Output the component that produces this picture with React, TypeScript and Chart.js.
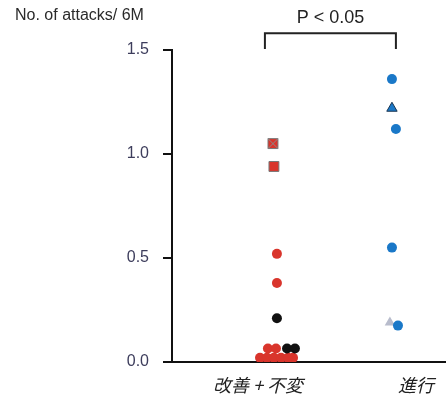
import React, { useEffect, useRef } from "react";
import { Chart, registerables } from "chart.js";

Chart.register(...registerables);

// ---- data ----
const categories = ["改善 + 不変", "進行"];
const yTickValues = [0, 0.5, 1.0, 1.5];
const yAxisTitle = "No. of attacks/ 6M";
const pText = "P < 0.05";

// group 1 (改善 + 不変), x = category position + jitter
const redSquareX = [1.095, 1.101];
const redSquareY = [1.05, 0.94];
const redCrossX = [1.095];
const redCrossY = [1.05];
const redCircleX = [1.12, 1.12, 1.063, 1.114, 1.013, 1.057, 1.101, 1.146, 1.222, 1.19];
const redCircleY = [0.52, 0.38, 0.065, 0.065, 0.02, 0.02, 0.02, 0.02, 0.02, 0.02];
const blackCircleX = [1.12, 1.184, 1.234];
const blackCircleY = [0.21, 0.065, 0.065];

// group 2 (進行)
const blueCircleX = [1.848, 1.873, 1.848, 1.886];
const blueCircleY = [1.36, 1.12, 0.55, 0.175];
const blueTriangleX = [1.848];
const blueTriangleY = [1.22];
const grayTriangleX = [1.835];
const grayTriangleY = [0.19];

// significance bracket
const bracketFrom = 1.044;
const bracketTo = 1.873;
const bracketTop = 1.58;
const bracketLeg = 1.505;

const toPts = (xs: number[], ys: number[]) => xs.map((x, i) => ({ x, y: ys[i] }));

const annotate = {
  id: "annotate",
  afterDraw(chart: any) {
    const ctx = chart.ctx;
    const xs = chart.scales.x;
    const ys = chart.scales.y;
    ctx.save();
    ctx.fillStyle = "#2a2a2a";
    ctx.font = "16px 'Liberation Sans', Arial, sans-serif";
    ctx.textAlign = "left";
    ctx.textBaseline = "alphabetic";
    ctx.fillText(yAxisTitle, 15, 20);

    const x1 = xs.getPixelForValue(bracketFrom);
    const x2 = xs.getPixelForValue(bracketTo);
    const yt = ys.getPixelForValue(bracketTop);
    const yl = ys.getPixelForValue(bracketLeg);
    ctx.strokeStyle = "#222222";
    ctx.lineWidth = 2;
    ctx.beginPath();
    ctx.moveTo(x1, yl);
    ctx.lineTo(x1, yt);
    ctx.lineTo(x2, yt);
    ctx.lineTo(x2, yl);
    ctx.stroke();

    ctx.font = "18px 'Liberation Sans', Arial, sans-serif";
    ctx.textAlign = "center";
    ctx.fillStyle = "#222222";
    ctx.fillText(pText, (x1 + x2) / 2, 23);
    ctx.restore();
  },
};

export default function App() {
  const ref = useRef<HTMLCanvasElement>(null);
  useEffect(() => {
    if (!ref.current) return;
    const red = "#d9352c";
    const blue = "#1a78c8";
    const chart = new Chart(ref.current, {
      type: "scatter",
      data: {
        datasets: [
          {
            data: toPts(redCrossX, redCrossY),
            pointStyle: "crossRot",
            pointRadius: 7,
            borderColor: "#8a8a8a",
            borderWidth: 1,
            backgroundColor: "transparent",
          },
          {
            data: toPts(redSquareX, redSquareY),
            pointStyle: "rect",
            pointRadius: 7,
            backgroundColor: red,
            borderColor: "#777777",
            borderWidth: 1,
          },
          {
            data: toPts(blueCircleX, blueCircleY),
            pointStyle: "circle",
            pointRadius: 5,
            backgroundColor: blue,
            borderColor: blue,
            borderWidth: 0,
          },
          {
            data: toPts(grayTriangleX, grayTriangleY),
            pointStyle: "triangle",
            pointRadius: 6,
            backgroundColor: "#b8bccc",
            borderColor: "#b8bccc",
            borderWidth: 0,
          },
          {
            data: toPts(blueTriangleX, blueTriangleY),
            pointStyle: "triangle",
            pointRadius: 6,
            backgroundColor: blue,
            borderColor: "#1a3550",
            borderWidth: 1,
          },
          {
            data: toPts(blackCircleX, blackCircleY),
            pointStyle: "circle",
            pointRadius: 5,
            backgroundColor: "#111111",
            borderColor: "#111111",
            borderWidth: 0,
          },
          {
            data: toPts(redCircleX, redCircleY),
            pointStyle: "circle",
            pointRadius: 5,
            backgroundColor: red,
            borderColor: red,
            borderWidth: 0,
          },
        ],
      },
      options: {
        animation: false,
        responsive: false,
        events: [],
        layout: { autoPadding: false, padding: { top: 50, left: 0, right: 0, bottom: 0 } },
        plugins: { legend: { display: false }, tooltip: { enabled: false } },
        scales: {
          x: {
            type: "linear",
            min: 0.456,
            max: 2.19,
            afterFit: (s: any) => {
              s.height = 39;
              s.paddingLeft = 0;
              s.paddingRight = 0;
            },
            afterBuildTicks: (s: any) => {
              s.ticks = categories.map((_, i) => ({ value: i + 1 }));
            },
            grid: { display: false, drawTicks: false },
            border: { display: true, color: "#111111", width: 2 },
            ticks: {
              autoSkip: false,
              maxRotation: 0,
              padding: 12,
              color: "#222222",
              font: { family: "'Noto Sans CJK JP'", size: 18, style: "italic" },
              callback: (v: any) => categories[Math.round(Number(v)) - 1] ?? "",
            },
          },
          y: {
            min: 0,
            max: 1.5,
            afterFit: (s: any) => {
              s.width = 172;
              s.paddingTop = 0;
              s.paddingBottom = 0;
            },
            afterBuildTicks: (s: any) => {
              s.ticks = yTickValues.map((v) => ({ value: v }));
            },
            grid: {
              display: true,
              drawOnChartArea: false,
              drawTicks: true,
              tickLength: 9,
              color: "#111111",
              lineWidth: 2,
            },
            border: { display: true, color: "#111111", width: 2 },
            ticks: {
              padding: 14,
              color: "#3d3d5c",
              font: { family: "'Liberation Sans', Arial", size: 16 },
              callback: (v: any) => Number(v).toFixed(1),
            },
          },
        },
      },
      plugins: [annotate],
    });
    return () => chart.destroy();
  }, []);
  return (
    <div style={{ position: "fixed", left: 0, top: 0, width: 446, height: 401, background: "#fff" }}>
      <canvas ref={ref} width={446} height={401} />
    </div>
  );
}
